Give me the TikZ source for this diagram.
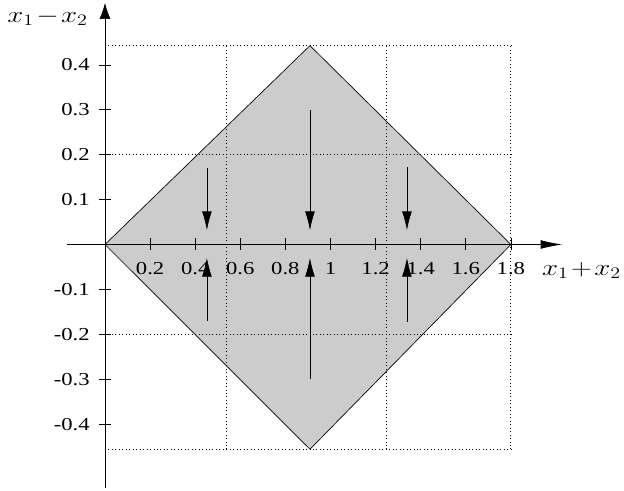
\documentclass[tikz,border=0pt]{standalone}
\usepackage[no-math]{fontspec}
\setmainfont{Liberation Serif}
\usetikzlibrary{arrows.meta}
\newcommand{\widetext}[1]{\scalebox{1.24}[1]{#1}}
\newcommand{\widemath}[1]{\scalebox{1.25}[1]{$\medmuskip=1.5mu #1$}}
\tikzset{
  ticklab/.style={inner sep=0pt, font=\fontsize{13.7}{16}\selectfont},
  axislab/.style={inner sep=0pt, font=\fontsize{17.28}{20}\selectfont},
  flow/.style={line width=0.5pt, -{Latex[length=14pt,width=7.3pt]}},
  gridline/.style={dotted, line width=0.6pt},
}
\begin{document}
\begin{tikzpicture}[x=5.9435cm, y=11.835cm, line width=0.5pt]
    \useasboundingbox (-0.4656,-0.5468) rectangle (2.3016,0.5445);

    % 1. Vung to xam hinh thoi
    \filldraw[fill=black!20, draw=black] (0,0) -- (0.909,0.443) -- (1.8,0)
        -- (0.909,-0.456) -- cycle;

    % 2. Luoi net cham
    \foreach \gx in {0.54,1.25,1.8}
        \draw[gridline] (\gx,-0.456) -- (\gx,0.443);
    \foreach \gy in {-0.456,-0.2,0.2,0.443}
        \draw[gridline] (0,\gy) -- (1.8,\gy);

    % 3. Truc toa do
    \draw[-{Latex[length=16pt,width=6.5pt]}] (-0.168,0) -- (2.027,0);
    \draw[-{Latex[length=12pt,width=8.25pt]}] (0,-0.542) -- (0,0.538);

    % Vach chia va nhan tren truc hoanh
    \foreach \x [count=\i] in {0.2,0.4,0.6,0.8,1,1.2,1.4,1.6,1.8} {
        \draw (\x,0) ++(0,4.5pt) -- ++(0,-9pt);
        \node[ticklab, anchor=north] (tx\i) at (\x,-0.039) {\widetext{\x}};
    }
    % Vach chia va nhan tren truc tung
    \foreach \y [count=\i] in {-0.4,-0.3,-0.2,-0.1,0.1,0.2,0.3,0.4} {
        \draw (0,\y) ++(4.5pt,0) -- ++(-9pt,0);
        \node[ticklab, anchor=east] (ty\i) at (-0.0665,\y) {\widetext{\y}};
    }

    % 4. Cac mui ten huong vao truc hoanh
    \foreach \ax/\ay in {0.452/0.17, 0.909/0.3, 1.339/0.172} {
        \draw[flow] (\ax,\ay) -- (\ax,0.032);
        \draw[flow] (\ax,-\ay) -- (\ax,-0.03);
    }

    % 5. Ten truc
    \node[axislab, anchor=base west] (xlab) at (1.937,-0.068) {\widemath{x_1+x_2}};
    \node[axislab, anchor=base west] (ylab) at (-0.4346,0.4955) {\widemath{x_1-x_2}};

\end{tikzpicture}
\end{document}
